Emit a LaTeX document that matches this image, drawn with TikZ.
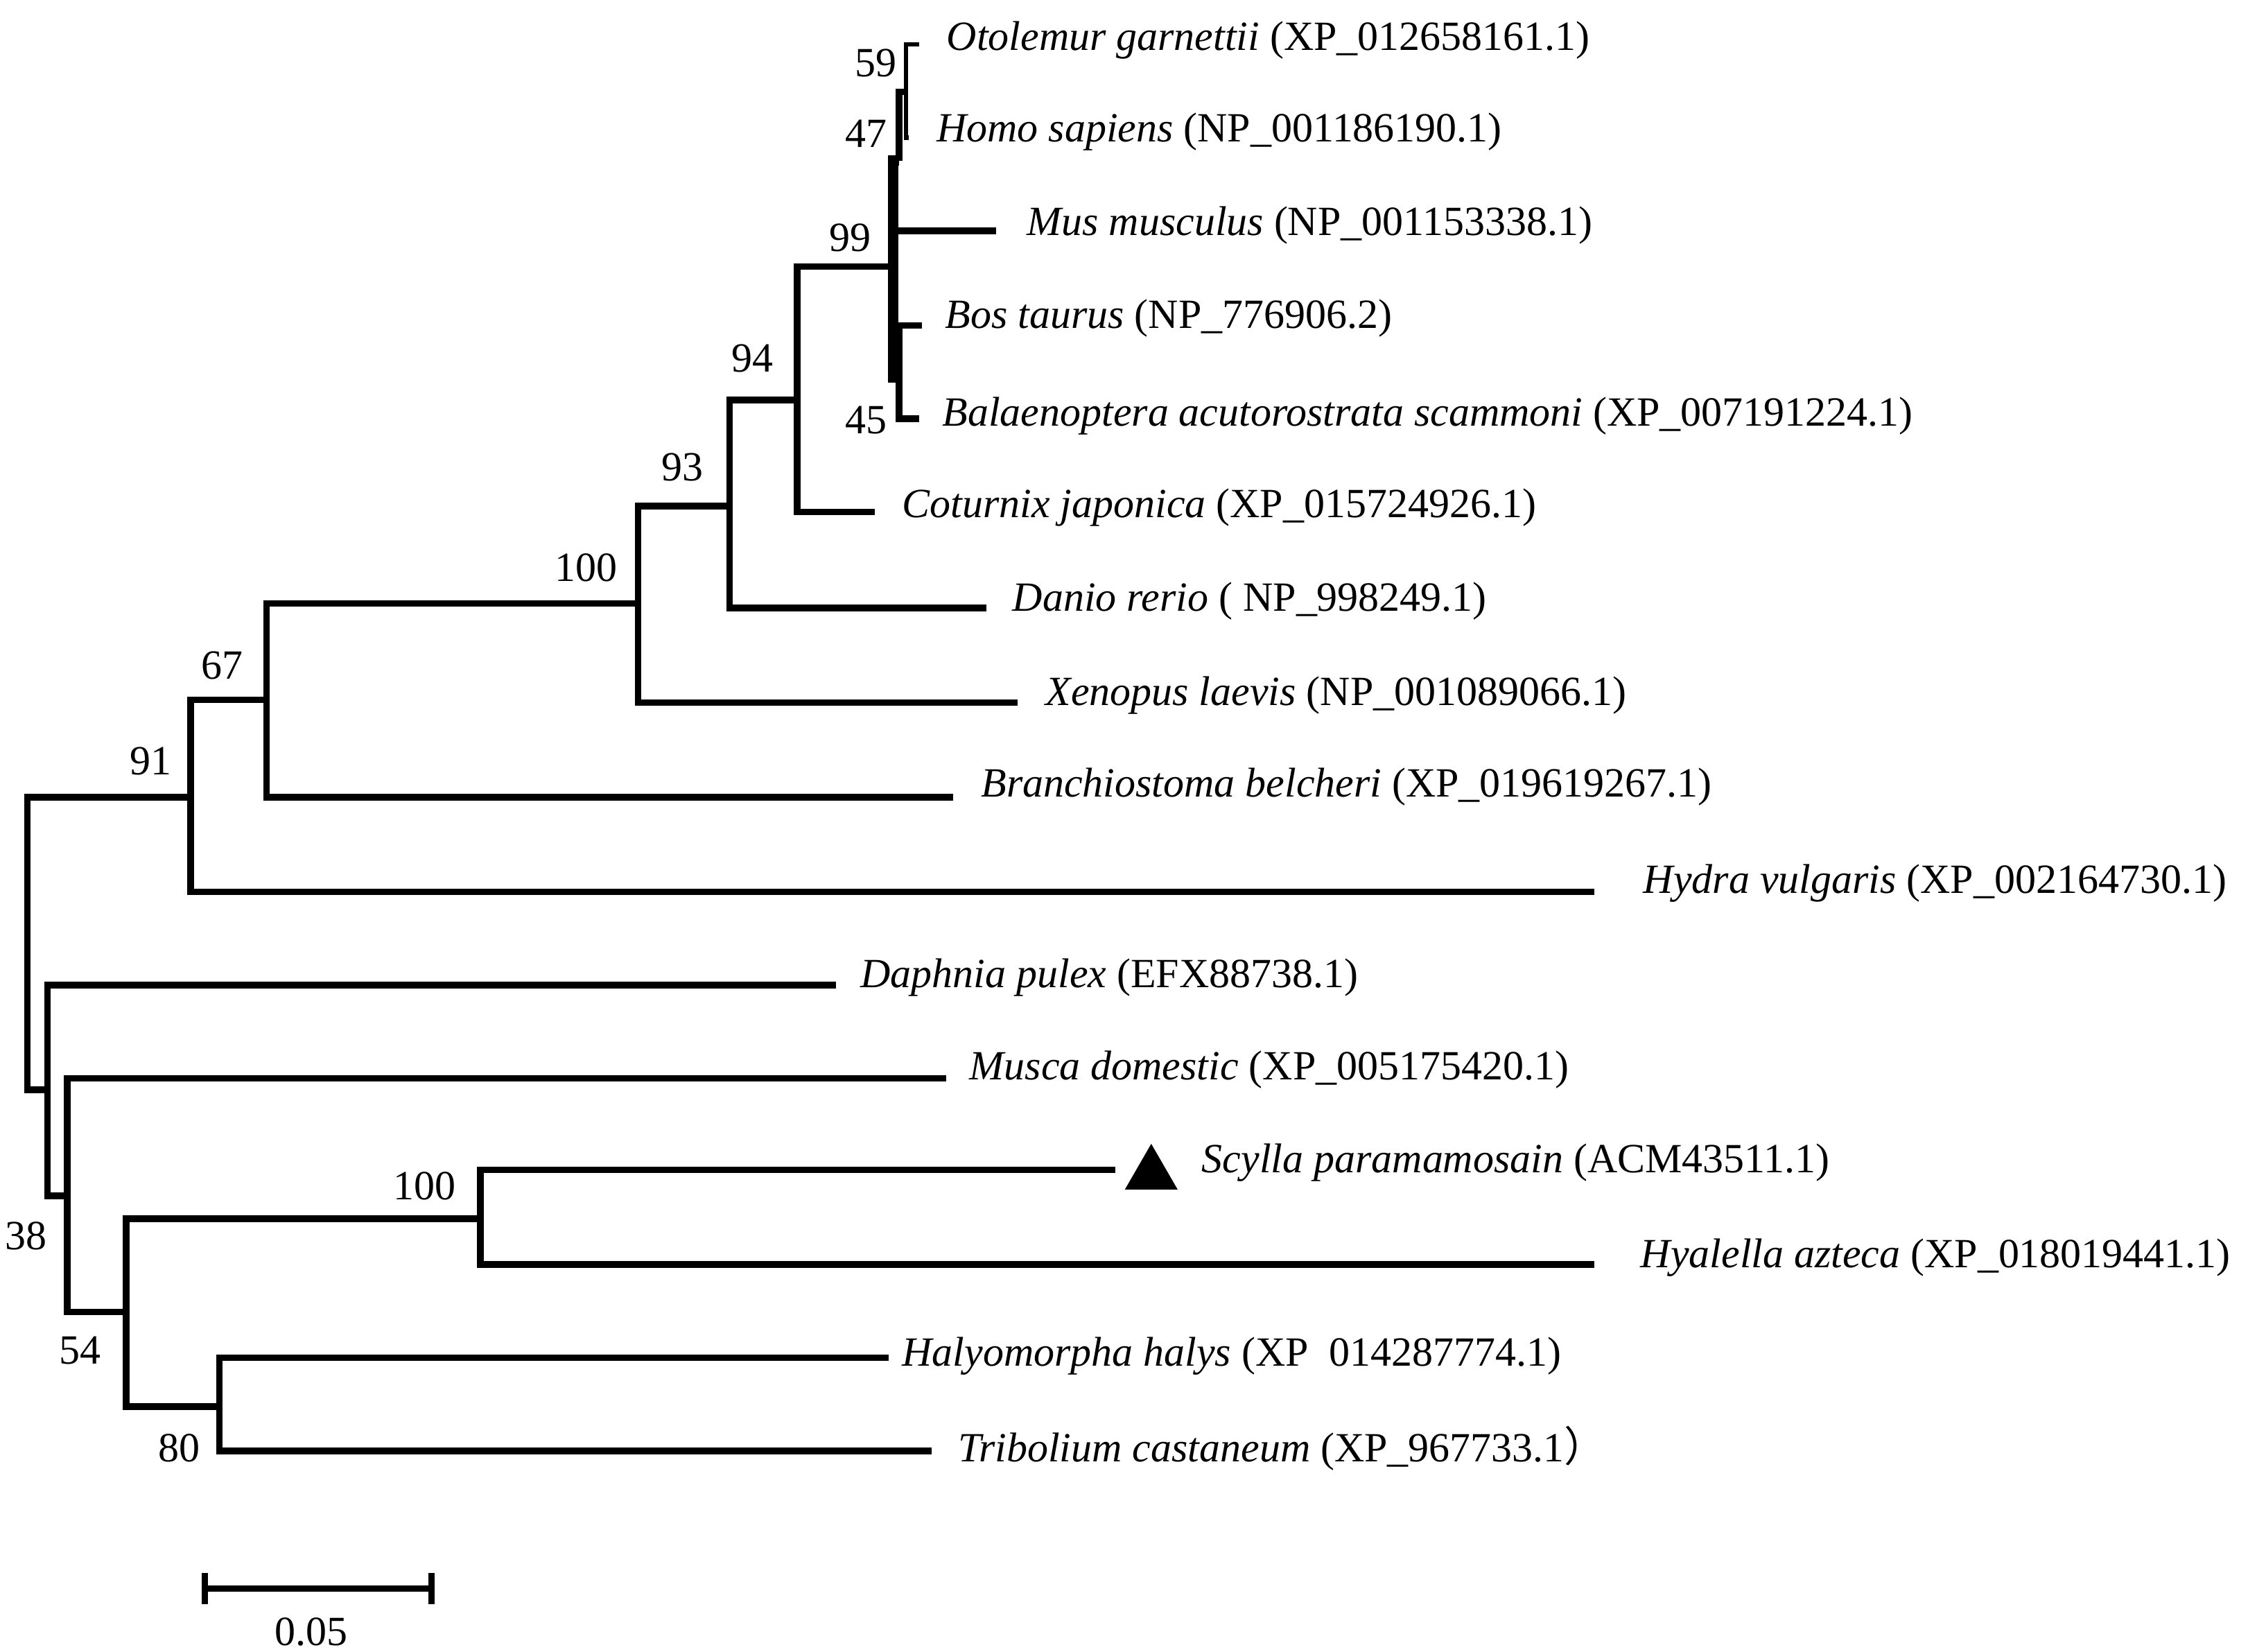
\documentclass[tikz,border=0pt]{standalone}
\usepackage{fontspec}
\setmainfont{Liberation Serif}
\newfontfamily\cjkfont{Noto Sans CJK SC}
\usetikzlibrary{shapes.geometric}

\begin{document}
\begin{tikzpicture}[
    x=0.02cm, y=-0.02cm,
    branch/.style={line width=2.6pt, line join=miter},
    fine branch/.style={line width=1.8pt, line join=miter},
    heavy branch/.style={line width=4.2pt, line join=miter},
    taxon/.style={anchor=west, inner sep=0pt, font=\fontsize{16.5}{18}\selectfont},
    boot/.style={inner sep=0pt, font=\fontsize{16.5}{18}\selectfont}
]
    \useasboundingbox (0,0) rectangle (1568,1152);

    % internal nodes
    \coordinate (n59) at (632,64);
    \coordinate (n47) at (627,112);
    \coordinate (n99) at (623,186);
    \coordinate (n45) at (627,263);
    \coordinate (n94) at (556,279);
    \coordinate (n93) at (509,353);
    \coordinate (n100a) at (445,421);
    \coordinate (n67) at (186,488);
    \coordinate (n91) at (133,556);
    \coordinate (root) at (19,656);
    \coordinate (nA) at (33,760);
    \coordinate (n38) at (47,834);
    \coordinate (n54) at (88,915);
    \coordinate (n100b) at (335,850);
    \coordinate (n80) at (153,981);

    % tips
    \coordinate (oto) at (641,31);
    \coordinate (homo) at (634,96);
    \coordinate (mus) at (695,161);
    \coordinate (bos) at (643,227);
    \coordinate (bal) at (641,292);
    \coordinate (cot) at (610,357);
    \coordinate (dan) at (688,424);
    \coordinate (xen) at (710,490);
    \coordinate (bra) at (665,556);
    \coordinate (hyd) at (1112,622);
    \coordinate (dap) at (583,687);
    \coordinate (mdo) at (660,752);
    \coordinate (scy) at (778,816);
    \coordinate (hya) at (1112,882);
    \coordinate (hal) at (620,947);
    \coordinate (tri) at (650,1012);

    \draw [branch] (root) |- (n91);
    \draw [branch] (root) |- (nA);
    \draw [branch] (n91) |- (n67);
    \draw [branch] (n91) |- (hyd);
    \draw [branch] (n67) |- (n100a);
    \draw [branch] (n67) |- (bra);
    \draw [branch] (n100a) |- (n93);
    \draw [branch] (n100a) |- (xen);
    \draw [branch] (n93) |- (n94);
    \draw [branch] (n93) |- (dan);
    \draw [branch] (n94) |- (n99);
    \draw [branch] (n94) |- (cot);
    \draw [heavy branch] (n99) |- (n47);
    \draw [heavy branch] (n99) |- (n45);
    \draw [branch] (n99) |- (mus);
    \draw [branch] (n47) |- (n59);
    \draw [fine branch] (n59) |- (oto);
    \draw [fine branch] (n59) |- (homo);
    \draw [branch] (n45) |- (bos);
    \draw [branch] (n45) |- (bal);
    \draw [branch] (nA) |- (dap);
    \draw [branch] (nA) |- (n38);
    \draw [branch] (n38) |- (mdo);
    \draw [branch] (n38) |- (n54);
    \draw [branch] (n54) |- (n100b);
    \draw [branch] (n54) |- (n80);
    \draw [branch] (n100b) |- (scy);
    \draw [branch] (n100b) |- (hya);
    \draw [branch] (n80) |- (hal);
    \draw [branch] (n80) |- (tri);

    \node [taxon] (oto-l) at (660,28) {\textit{Otolemur garnettii} (XP\_012658161.1)};
    \node [taxon] (homo-l) at (653,92) {\textit{Homo sapiens} (NP\_001186190.1)};
    \node [taxon] (mus-l) at (716,157) {\textit{Mus musculus} (NP\_001153338.1)};
    \node [taxon] (bos-l) at (659,222) {\textit{Bos taurus} (NP\_776906.2)};
    \node [taxon] (bal-l) at (657,290) {\textit{Balaenoptera acutorostrata scammoni} (XP\_007191224.1)};
    \node [taxon] (cot-l) at (629,354) {\textit{Coturnix japonica} (XP\_015724926.1)};
    \node [taxon] (dan-l) at (706,419) {\textit{Danio rerio} ( NP\_998249.1)};
    \node [taxon] (xen-l) at (729,485) {\textit{Xenopus laevis} (NP\_001089066.1)};
    \node [taxon] (bra-l) at (684,549) {\textit{Branchiostoma belcheri} (XP\_019619267.1)};
    \node [taxon] (hyd-l) at (1146,616) {\textit{Hydra vulgaris} (XP\_002164730.1)};
    \node [taxon] (dap-l) at (600,682) {\textit{Daphnia pulex} (EFX88738.1)};
    \node [taxon] (mdo-l) at (676,746) {\textit{Musca domestic} (XP\_005175420.1)};
    \node [taxon] (scy-l) at (838,811) {\textit{Scylla paramamosain} (ACM43511.1)};
    \node [taxon] (hya-l) at (1144,877) {\textit{Hyalella azteca} (XP\_018019441.1)};
    \node [taxon] (hal-l) at (629,946) {\textit{Halyomorpha halys} (XP\enspace014287774.1)};
    \node [taxon] (tri-l) at (668,1010) {\textit{Tribolium castaneum} (XP\_967733.1{\cjkfont ）}};

    \node [regular polygon, regular polygon sides=3, fill=black, inner sep=0pt, minimum size=0.85cm] (scy-mark) at (803,819) {};

    \node [boot] (b59) at (611,44) {59};
    \node [boot] (b47) at (604,93) {47};
    \node [boot] (b99) at (593,166) {99};
    \node [boot] (b45) at (604,293) {45};
    \node [boot] (b94) at (525,250) {94};
    \node [boot] (b93) at (476,326) {93};
    \node [boot] (b100a) at (409,396) {100};
    \node [boot] (b67) at (155,464) {67};
    \node [boot] (b91) at (105,531) {91};
    \node [boot] (b38) at (18,862) {38};
    \node [boot] (b54) at (56,942) {54};
    \node [boot] (b80) at (125,1010) {80};
    \node [boot] (b100b) at (296,827) {100};

    % scale bar
    \coordinate (sbl) at (143,1108);
    \coordinate (sbr) at (301,1108);
    \draw [branch] (sbl) -- (sbr);
    \draw [branch] (sbl) ++(0,-11) -- ++(0,22);
    \draw [branch] (sbr) ++(0,-11) -- ++(0,22);
    \node [boot] (sb-l) at (217,1138) {0.05};
\end{tikzpicture}
\end{document}
